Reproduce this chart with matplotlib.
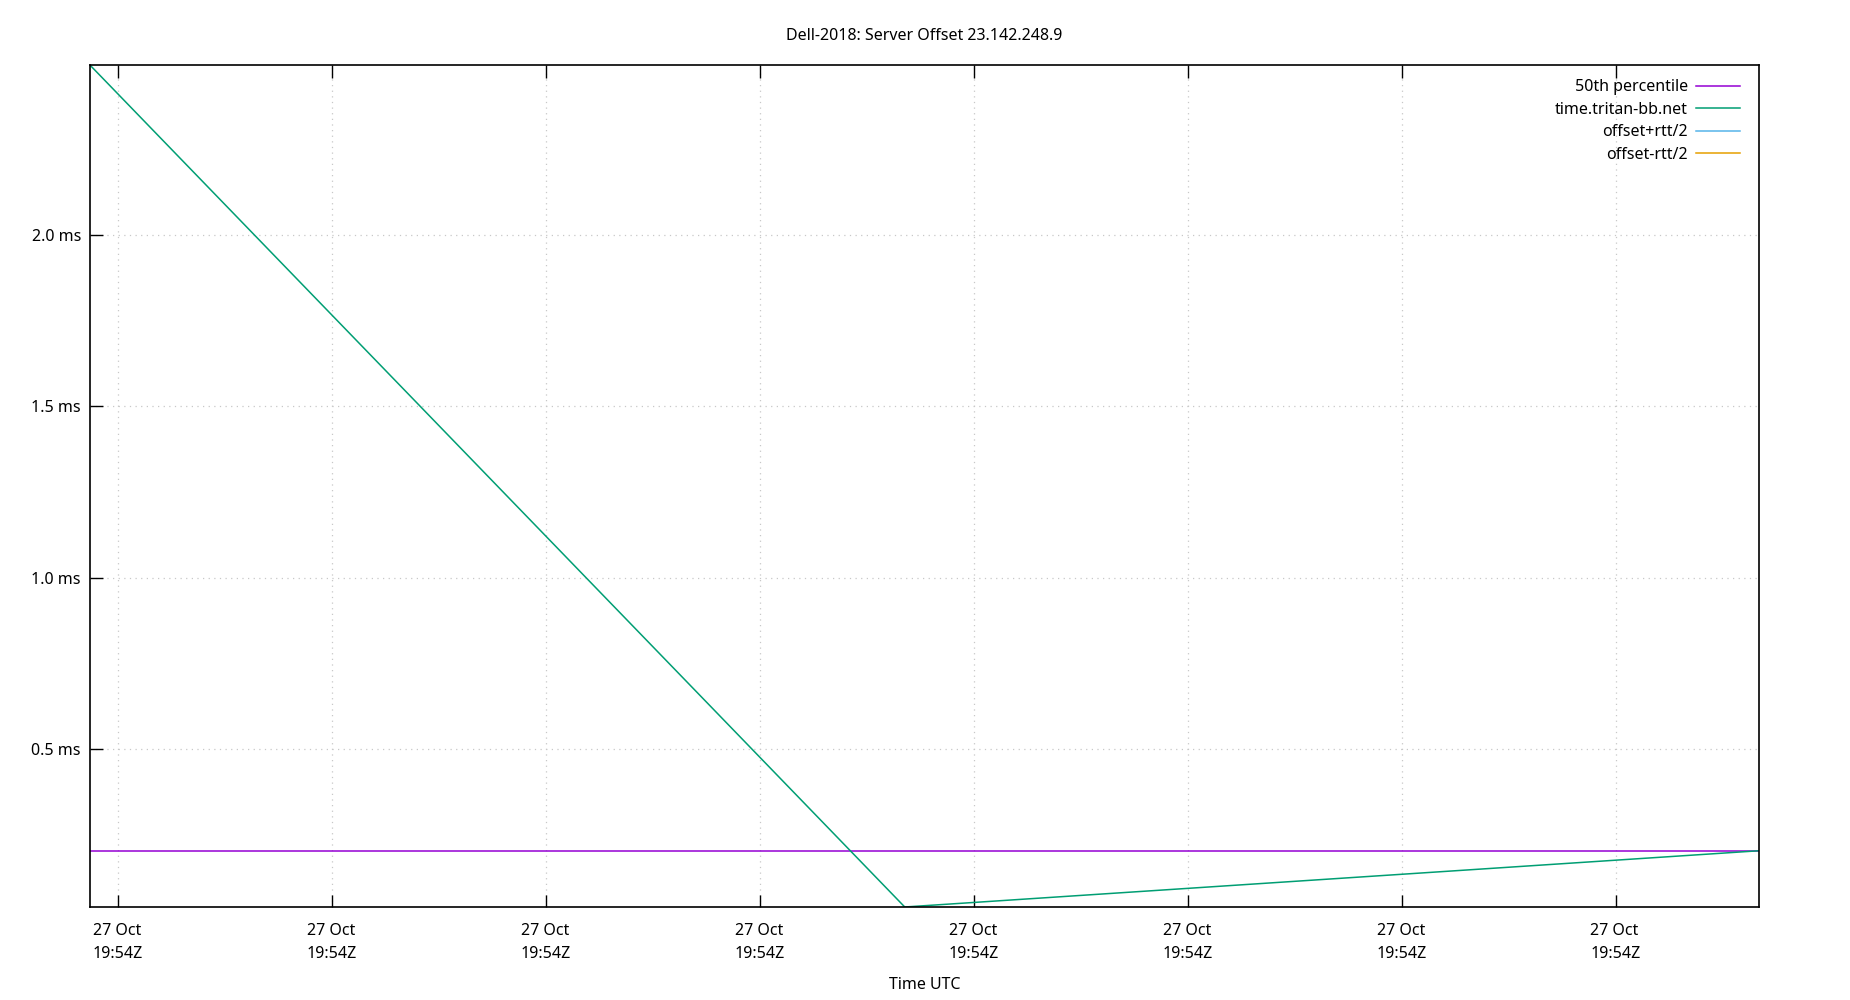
import matplotlib
matplotlib.use("Agg")
import matplotlib.pyplot as plt
import matplotlib.dates as mdates
import matplotlib.ticker as mticker
import pandas as pd

plt.rcParams['font.family'] = ['Noto Sans', 'DejaVu Sans']

# Data
times = pd.to_datetime(["2023-10-27 19:54:04.35",
                        "2023-10-27 19:54:23.39",
                        "2023-10-27 19:54:43.35"])
offset_ms = [2.495, 0.040, 0.204]
percentile_50 = 0.204
offset_plus = []   # no visible rtt band
offset_minus = []

title = "Dell-2018: Server Offset 23.142.248.9"
server = "time.tritan-bb.net"

fig = plt.figure(figsize=(18.5, 10), dpi=100)
ax = fig.add_axes([0.0486, 0.093, 0.9022, 0.842])

ax.axhline(percentile_50, color='#9400d3', lw=1.1, label='50th percentile')
ax.plot(times, offset_ms, color='#009e73', lw=1.1, label=server)
ax.plot(offset_plus, offset_plus, color='#56b4e9', lw=1.1, label='offset+rtt/2')
ax.plot(offset_minus, offset_minus, color='#e69f00', lw=1.1, label='offset-rtt/2')

ax.set_xlim(times[0], times[-1])
ax.set_ylim(min(offset_ms), max(offset_ms))

ax.xaxis.set_major_locator(mdates.SecondLocator(bysecond=range(0, 60, 5)))
ax.xaxis.set_major_formatter(mdates.DateFormatter('%d %b\n%H:%MZ'))
ax.yaxis.set_major_locator(mticker.MultipleLocator(0.5))
ax.yaxis.set_major_formatter(mticker.FuncFormatter(lambda v, p: f"{v:.1f} ms"))

ax.tick_params(direction='in', length=9, width=1, labelsize=11.5,
               top=True, right=False)
ax.tick_params(axis='x', pad=11.5)
ax.tick_params(axis='y', pad=6.5)
for lbl in ax.get_xticklabels():
    lbl.set_horizontalalignment('center')
    lbl.set_multialignment('left')
    lbl.set_linespacing(1.55)
ax.grid(True, color='#c8c8c8', linestyle=(0, (1, 3.5)), lw=0.9)
for s in ax.spines.values():
    s.set_linewidth(1.2)

ax.set_title(title, fontsize=11.5, pad=18)
ax.set_xlabel('Time UTC', fontsize=11.5, labelpad=11)

ax.legend(loc='upper right', bbox_to_anchor=(0.997, 1.0), frameon=False,
          markerfirst=False, fontsize=11.5, handlelength=2.7,
          handletextpad=0.55, labelspacing=0.4, borderaxespad=0.5)

fig.savefig('out.png', dpi=100)
